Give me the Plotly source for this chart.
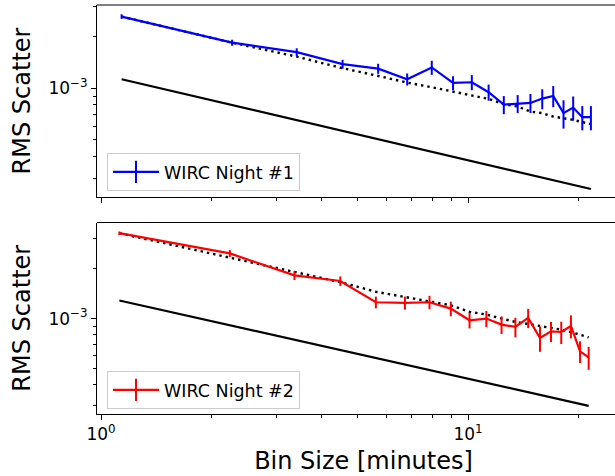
import plotly.graph_objects as go
from plotly.subplots import make_subplots

# Bin index (number of frames per bin)
bin_n = list(range(1, 20))
unit1 = 1.138   # minutes per frame, night 1
unit2 = 1.122   # minutes per frame, night 2
bins1 = [n * unit1 for n in bin_n]
bins2 = [n * unit2 for n in bin_n]

# Night 1 measured RMS
rms1 = [2.61e-3, 1.84e-3, 1.62e-3, 1.38e-3, 1.30e-3, 1.127e-3, 1.32e-3, 1.074e-3,
        1.083e-3, 9.48e-4, 8.03e-4, 8.14e-4, 8.21e-4, 8.70e-4, 9.02e-4, 7.16e-4,
        7.71e-4, 6.78e-4, 6.78e-4]
err1 = [8.0e-5, 7.4e-5, 8.7e-5, 8.3e-5, 8.7e-5, 9.1e-5, 1.24e-4, 1.0e-4, 1.09e-4,
        1.02e-4, 9.7e-5, 9.8e-5, 1.04e-4, 1.16e-4, 1.27e-4, 1.34e-4, 1.24e-4,
        1.09e-4, 1.09e-4]
expect1 = [2.61e-3, 1.84e-3, 1.526e-3, 1.307e-3, 1.179e-3, 1.078e-3, 1.013e-3, 9.52e-4,
           9.06e-4, 8.66e-4, 8.07e-4, 7.82e-4, 7.31e-4, 7.16e-4, 6.84e-4, 6.69e-4,
           6.54e-4, 6.35e-4, 6.18e-4]
white1_x = [bins1[0], bins1[-1]]
white1_y = [1.128e-3, 2.59e-4]

# Night 2 measured RMS
rms2 = [3.25e-3, 2.46e-3, 1.815e-3, 1.68e-3, 1.253e-3, 1.243e-3, 1.253e-3, 1.148e-3,
        9.77e-4, 1.0e-3, 9.2e-4, 8.91e-4, 1.01e-3, 7.65e-4, 8.39e-4, 8.31e-4,
        9.03e-4, 6.36e-4, 5.85e-4]
err2 = [7.7e-5, 1.19e-4, 1.13e-4, 1.10e-4, 1.01e-4, 1.12e-4, 1.16e-4, 1.15e-4, 1.04e-4,
        1.11e-4, 1.11e-4, 1.20e-4, 1.33e-4, 1.33e-4, 1.16e-4, 1.27e-4, 1.42e-4,
        9.5e-5, 9.2e-5]
expect2 = [3.25e-3, 2.32e-3, 1.91e-3, 1.655e-3, 1.448e-3, 1.351e-3, 1.271e-3, 1.202e-3,
           1.097e-3, 1.057e-3, 1.0e-3, 9.55e-4, 9.29e-4, 8.99e-4, 8.79e-4, 8.59e-4,
           8.31e-4, 8.01e-4, 7.71e-4]
white2_x = [bins2[0], bins2[-1]]
white2_y = [1.283e-3, 3.0e-4]

FONT = "DejaVu Sans"

fig = make_subplots(rows=2, cols=1, shared_xaxes=False, vertical_spacing=0.06)

def add_panel(row, x, y, e, ex, wx, wy, color, name, legend):
    fig.add_trace(go.Scatter(x=wx, y=wy, mode="lines", line=dict(color="black", width=2.2),
                             showlegend=False), row=row, col=1)
    fig.add_trace(go.Scatter(x=x, y=ex, mode="lines",
                             line=dict(color="black", width=2.4, dash="2.4px,4px"),
                             showlegend=False), row=row, col=1)
    fig.add_trace(go.Scatter(x=x, y=y, mode="lines", line=dict(color=color, width=2.2),
                             error_y=dict(type="data", array=e, visible=True, color=color,
                                          thickness=2, width=0),
                             showlegend=False), row=row, col=1)
    fig.add_trace(go.Scatter(x=[None], y=[None], mode="lines+markers", name=name,
                             line=dict(color=color, width=2.2),
                             marker=dict(symbol="line-ns", size=16, color=color,
                                         line=dict(color=color, width=2)),
                             legend=legend), row=row, col=1)

add_panel(1, bins1, rms1, err1, expect1, white1_x, white1_y, "#0000ff", "WIRC Night #1", "legend")
add_panel(2, bins2, rms2, err2, expect2, white2_x, white2_y, "#ff0000", "WIRC Night #2", "legend2")

FIG_W = 630          # plot area extends past the right edge of the 615 px window
L_MARGIN = 97
PLOT_W = FIG_W - L_MARGIN
xrange_log = [-0.0109, 1.4414]
minor_x = [2, 3, 4, 5, 6, 7, 8, 9, 20]
minor_y = [2e-4, 3e-4, 4e-4, 5e-4, 6e-4, 7e-4, 8e-4, 9e-4, 2e-3, 3e-3, 4e-3]

common_x = dict(type="log", range=xrange_log, showline=True, linecolor="black", linewidth=1.1,
                mirror=False, ticks="outside", ticklen=5, tickwidth=1.1, tickcolor="black",
                tickvals=[1, 10], showgrid=False, zeroline=False, automargin=False,
                minor=dict(tickvals=minor_x, ticks="outside", ticklen=3, tickwidth=1, tickcolor="black",
                           showgrid=False),
                tickfont=dict(family=FONT, size=17, color="black"))
fig.update_xaxes(**common_x)
fig.update_xaxes(ticktext=["", ""], row=1, col=1)
fig.update_xaxes(ticktext=["10<sup>0</sup>", "10<sup>1</sup>"], row=2, col=1,
                 title=dict(text="Bin Size [minutes]", font=dict(family=FONT, size=24, color="black"),
                            standoff=8))

common_y = dict(type="log", showline=True, linecolor="black", linewidth=1.1, mirror=False,
                ticks="outside", ticklen=5, tickwidth=1.1, tickcolor="black", automargin=False,
                tickvals=[1e-3], ticktext=["10<sup>\u22123</sup>"], showgrid=False, zeroline=False,
                minor=dict(tickvals=minor_y, ticks="outside", ticklen=3, tickwidth=1, tickcolor="black",
                           showgrid=False),
                tickfont=dict(family=FONT, size=17, color="black"),
                title=dict(text="RMS Scatter", font=dict(family=FONT, size=24, color="black"),
                           standoff=10))
fig.update_yaxes(**common_y)
fig.update_yaxes(range=[-3.633, -2.516], row=1, col=1)
fig.update_yaxes(range=[-3.572, -2.424], row=2, col=1)

# top spines of both panels
for xr, yr in (("x domain", "y domain"), ("x2 domain", "y2 domain")):
    fig.add_shape(type="line", xref=xr, yref=yr, x0=0, x1=1, y0=1, y1=1,
                  line=dict(color="black", width=1.1), layer="above")

H_PLOT = 409.0
top_lo = (414 - 197) / H_PLOT
bot_hi = (414 - 222.5) / H_PLOT
leg_common = dict(xanchor="left", yanchor="middle", bgcolor="white", bordercolor="#cccccc",
                  borderwidth=1, font=dict(family=FONT, size=17.5, color="black"), itemwidth=46)
fig.update_layout(
    width=FIG_W, height=476,
    margin=dict(l=L_MARGIN, r=0, t=5, b=62, autoexpand=False),
    paper_bgcolor="white", plot_bgcolor="white",
    font=dict(family=FONT, size=17, color="black"),
    yaxis=dict(domain=[top_lo, 1.0]),
    yaxis2=dict(domain=[0.0, bot_hi]),
    legend=dict(x=(107 - L_MARGIN) / PLOT_W, y=(414 - 172) / H_PLOT, **leg_common),
    legend2=dict(x=(107 - L_MARGIN) / PLOT_W, y=(414 - 390) / H_PLOT, **leg_common),
)

fig.write_html("out.html", config={"displayModeBar": False},
               post_script="document.body.style.margin='0';document.body.style.overflow='hidden';")
